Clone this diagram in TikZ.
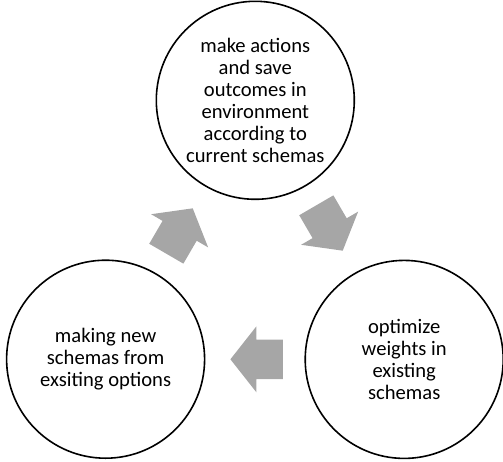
\documentclass[tikz,border=0pt]{standalone}
\usepackage{fontspec}
\setmainfont{Carlito}
\definecolor{arrowgray}{RGB}{166,166,166}
\tikzset{
  stage/.style={circle, draw=black, line width=1.6pt, minimum size=198pt, inner sep=0pt,
    align=center, font=\fontsize{20.6}{22}\selectfont},
  blockarrow/.pic={\fill[arrowgray] (0,19.75) -- (26.5,19.75) -- (26.5,33) -- (52.5,0)
     -- (26.5,-33) -- (26.5,-19.75) -- (0,-19.75) -- cycle;}
}
\begin{document}
\begin{tikzpicture}[x=1pt,y=-1pt]
\path[use as bounding box] (0,0) rectangle (503,461);
\node[stage] (act) at (255.3,100.3) {make actions\\and save\\outcomes in\\environment\\according to\\current schemas};
\node[stage] (new) at (105.6,359.2) {making new\\schemas from\\exsiting options};
\node[stage] (opt) at (404.2,359.4) {optimize\\weights in\\existing\\schemas};
\pic[rotate=59.8] at (166.3,253.7) {blockarrow};
\pic[rotate=-59.8] at (316.3,205.3) {blockarrow};
\pic[rotate=180] at (282.9,359.3) {blockarrow};
\end{tikzpicture}
\end{document}
